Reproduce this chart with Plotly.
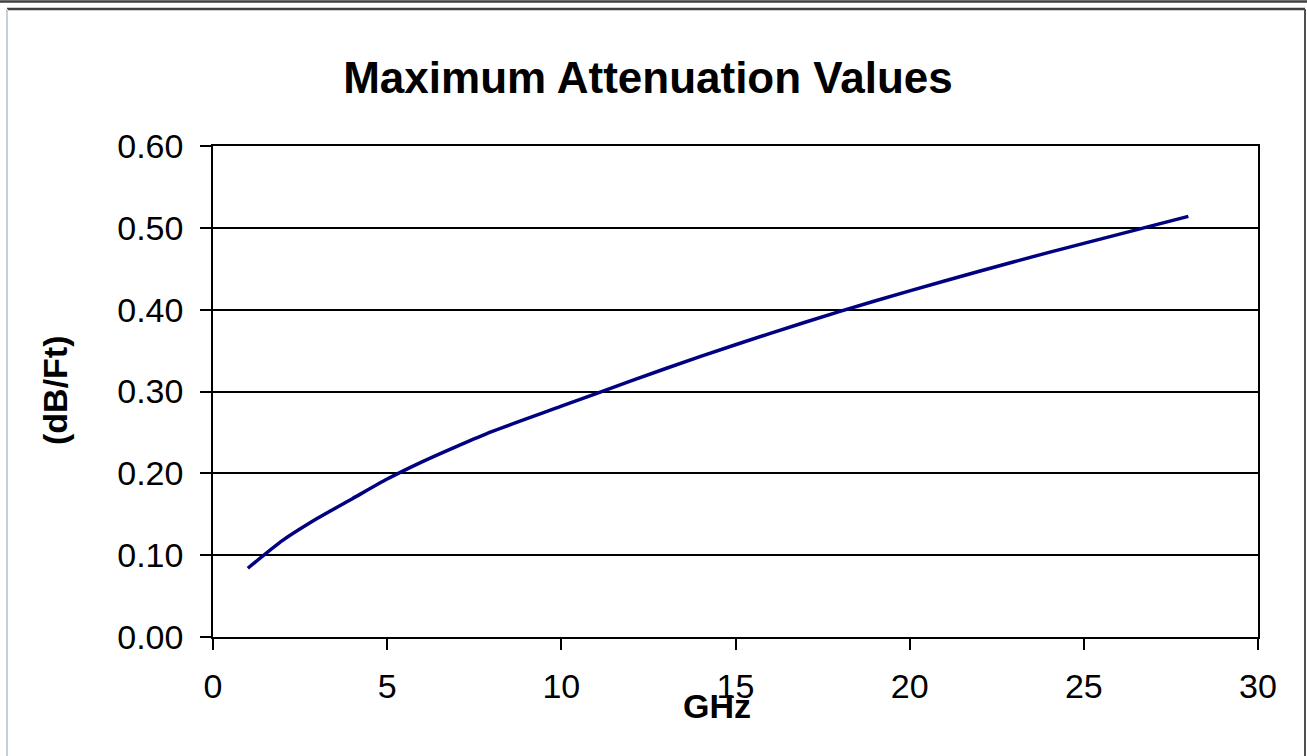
import plotly.graph_objects as go

# Data
freq_ghz = [1, 2, 3, 4, 5, 6, 7, 8, 10, 12, 14, 16, 18, 20, 22, 24, 26, 28]
atten_db_per_ft = [0.084, 0.118, 0.145, 0.169, 0.193, 0.214, 0.233, 0.251, 0.282, 0.313,
                   0.343, 0.371, 0.398, 0.423, 0.447, 0.470, 0.492, 0.514]
x_ticks = [0, 5, 10, 15, 20, 25, 30]
y_ticks = [0.0, 0.1, 0.2, 0.3, 0.4, 0.5, 0.6]
y_tick_text = ["0.00", "0.10", "0.20", "0.30", "0.40", "0.50", "0.60"]

W, H = 1307, 756
L, R, T, B = 213, 49, 146, 119
pw, ph = W - L - R, H - T - B

def px(x):
    return (x - L) / pw

def py(y):
    return (H - B - y) / ph

fig = go.Figure()
fig.add_trace(go.Scatter(x=freq_ghz, y=atten_db_per_ft, mode="lines",
                         line=dict(color="#000080", width=3.5, shape="spline", smoothing=0.6),
                         showlegend=False, hoverinfo="x+y"))

font_family = "Liberation Sans, Arial, sans-serif"

fig.update_layout(
    width=W, height=H,
    margin=dict(l=L, r=R, t=T, b=B, autoexpand=False),
    paper_bgcolor="white", plot_bgcolor="white",
    font=dict(family=font_family, color="black", size=34),
    title=dict(text="<b>Maximum Attenuation Values</b>", x=648 / W, xanchor="center",
               y=1 - 78 / H, yanchor="middle", font=dict(size=44, family=font_family, color="black")),
    xaxis=dict(range=[0, 30], tickvals=x_ticks, ticks="outside", ticklen=11, tickwidth=1.5,
               tickcolor="black", showline=True, linecolor="black", linewidth=1.5, mirror=True,
               showgrid=False, zeroline=False, ticklabelstandoff=7,
               tickfont=dict(size=34, family=font_family, color="black")),
    yaxis=dict(range=[0, 0.6], tickvals=y_ticks, ticktext=y_tick_text, ticks="outside",
               ticklen=11, tickwidth=1.5, tickcolor="black", showline=True, linecolor="black",
               linewidth=1.5, mirror=True, showgrid=True, gridcolor="black", gridwidth=1.5,
               zeroline=False, ticklabelstandoff=10,
               tickfont=dict(size=34, family=font_family, color="black")),
)

# axis titles as annotations placed like the original
fig.add_annotation(text="<b>GHz</b>", xref="paper", yref="paper", x=px(717), y=py(706),
                   showarrow=False, font=dict(size=34, family=font_family, color="black"),
                   xanchor="center", yanchor="middle")
fig.add_annotation(text="<b>(dB/Ft)</b>", xref="paper", yref="paper", x=px(55), y=py(390),
                   showarrow=False, textangle=-90, font=dict(size=34, family=font_family, color="black"),
                   xanchor="center", yanchor="middle")

# outer frame lines
fig.add_shape(type="line", xref="paper", yref="paper", x0=px(0), x1=px(W), y0=py(1.5), y1=py(1.5),
              line=dict(color="#404040", width=2.5))
fig.add_shape(type="line", xref="paper", yref="paper", x0=px(7), x1=px(1305), y0=py(9), y1=py(9),
              line=dict(color="#404040", width=2.5))
fig.add_shape(type="line", xref="paper", yref="paper", x0=px(1305), x1=px(1305), y0=py(9), y1=py(H),
              line=dict(color="#505050", width=2))
fig.add_shape(type="line", xref="paper", yref="paper", x0=px(7), x1=px(7), y0=py(9), y1=py(H),
              line=dict(color="#c4cedc", width=2))

fig.write_html("out.html", config={"displayModeBar": False},
               post_script="document.body.style.margin='0';document.body.style.overflow='hidden';")
